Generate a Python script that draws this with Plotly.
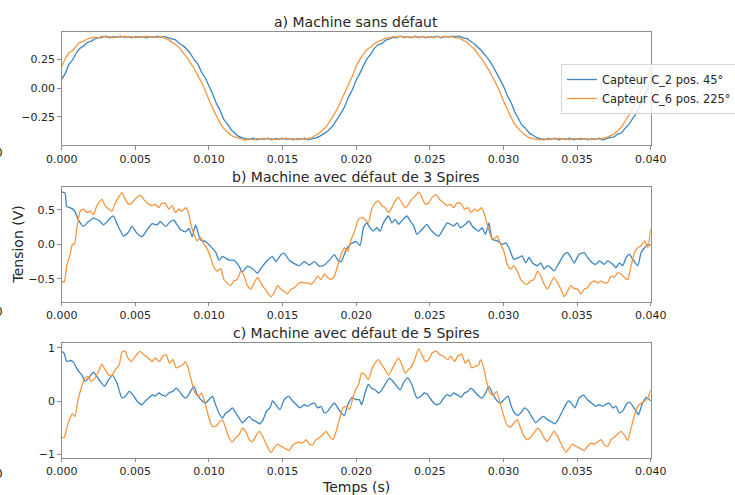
import plotly.graph_objects as go

# ---------------- data (time in ms, voltage in V) ----------------
# a) Machine sans défaut
a_blue = [(0,.08),(.25,.13),(.5,.21),(.75,.25),(1.0,.31),(1.25,.35),(1.5,.37),(1.75,.40),(2.0,.41),(2.25,.43),
          (2.5,.44),(2.75,.445),(3.0,.455),(3.25,.44),(3.5,.45),(3.75,.445),(4.0,.455),(4.25,.445),(4.5,.45),
          (4.75,.44),(5.0,.45),(5.25,.445),(5.5,.452),(5.75,.44),(6.0,.45),(6.25,.445),(6.5,.455),(6.75,.445),
          (7.0,.45),(7.25,.44),(7.5,.43),(7.75,.42),(8.0,.39),(8.25,.37),(8.5,.34),(8.75,.30),(9.0,.25),(9.25,.21),
          (9.5,.14),(9.75,.09),(10.0,.02),(10.25,-.05),(10.5,-.13),(10.75,-.19),(11.0,-.27),(11.25,-.31),
          (11.5,-.36),(11.75,-.39),(12.0,-.42),(12.25,-.43),(12.5,-.44),(12.75,-.445),(13.0,-.435),(13.25,-.45),
          (13.5,-.44),(13.75,-.445),(14.0,-.435),(14.25,-.45),(14.5,-.44),(14.75,-.445),(15.0,-.435),(15.25,-.445),
          (15.5,-.44),(15.75,-.45),(16.0,-.44),(16.25,-.445),(16.5,-.435),(16.75,-.45),(17.0,-.44),(17.25,-.435),
          (17.5,-.42),(17.75,-.40),(18.0,-.38),(18.25,-.35),(18.5,-.31),(18.75,-.26),(19.0,-.21),(19.25,-.15),
          (19.5,-.07),(19.75,-.01),(20.0,.07),
          (20.25,.13),(20.5,.20),(20.75,.26),(21.0,.30),(21.25,.35),(21.5,.38),(21.75,.39),(22.0,.42),(22.25,.43),
          (22.5,.445),(22.75,.44),(23.0,.455),(23.25,.445),(23.5,.45),(23.75,.44),(24.0,.455),(24.25,.445),
          (24.5,.45),(24.75,.44),(25.0,.45),(25.25,.445),(25.5,.455),(25.75,.44),(26.0,.45),(26.25,.445),
          (26.5,.455),(26.75,.45),(27.0,.455),(27.25,.44),(27.5,.435),(27.75,.41),(28.0,.39),(28.25,.36),
          (28.5,.33),(28.75,.29),(29.0,.25),(29.25,.20),(29.5,.14),(29.75,.08),(30.0,.02),(30.25,-.06),
          (30.5,-.12),(30.75,-.20),(31.0,-.26),(31.25,-.32),(31.5,-.35),(31.75,-.39),(32.0,-.41),(32.25,-.43),
          (32.5,-.44),(32.75,-.45),(33.0,-.44),(33.25,-.445),(33.5,-.435),(33.75,-.45),(34.0,-.44),(34.25,-.445),
          (34.5,-.435),(34.75,-.45),(35.0,-.44),(35.25,-.445),(35.5,-.44),(35.75,-.45),(36.0,-.44),(36.25,-.445),
          (36.5,-.435),(36.75,-.45),(37.0,-.44),(37.25,-.43),(37.5,-.425),(37.75,-.40),(38.0,-.39),(38.25,-.35),
          (38.5,-.32),(38.75,-.27),(39.0,-.22),(39.25,-.15),(39.5,-.08),(39.75,-.02),(40.0,.06)]

a_orange = [(0,.19),(.25,.26),(.5,.31),(.75,.33),(1.0,.37),(1.25,.40),(1.5,.41),(1.75,.43),(2.0,.44),(2.25,.445),
            (2.5,.44),(2.75,.455),(3.0,.445),(3.25,.45),(3.5,.44),(3.75,.45),(4.0,.445),(4.25,.455),(4.5,.445),
            (4.75,.45),(5.0,.44),(5.25,.45),(5.5,.445),(5.75,.455),(6.0,.445),(6.25,.45),(6.5,.445),(6.75,.45),
            (7.0,.435),(7.25,.425),(7.5,.40),(7.75,.38),(8.0,.35),(8.25,.31),(8.5,.27),(8.75,.22),(9.0,.17),
            (9.25,.11),(9.5,.05),(9.75,-.02),(10.0,-.10),(10.25,-.17),(10.5,-.24),(10.75,-.30),(11.0,-.35),
            (11.25,-.38),(11.5,-.41),(11.75,-.425),(12.0,-.435),(12.25,-.445),(12.5,-.45),(12.75,-.44),(13.0,-.45),
            (13.25,-.44),(13.5,-.445),(13.75,-.435),(14.0,-.445),(14.25,-.44),(14.5,-.45),(14.75,-.44),(15.0,-.445),
            (15.25,-.435),(15.5,-.445),(15.75,-.44),(16.0,-.45),(16.25,-.44),(16.5,-.445),(16.75,-.435),(17.0,-.43),
            (17.25,-.41),(17.5,-.39),(17.75,-.36),(18.0,-.33),(18.25,-.28),(18.5,-.23),(18.75,-.17),(19.0,-.10),
            (19.25,-.03),(19.5,.04),(19.75,.11),(20.0,.19),
            (20.25,.25),(20.5,.30),(20.75,.34),(21.0,.36),(21.25,.39),(21.5,.41),(21.75,.42),(22.0,.44),(22.25,.44),
            (22.5,.45),(22.75,.445),(23.0,.455),(23.25,.44),(23.5,.45),(23.75,.445),(24.0,.45),(24.25,.44),
            (24.5,.455),(24.75,.445),(25.0,.45),(25.25,.44),(25.5,.45),(25.75,.445),(26.0,.455),(26.25,.445),
            (26.5,.45),(26.75,.44),(27.0,.44),(27.25,.42),(27.5,.405),(27.75,.37),(28.0,.345),(28.25,.30),
            (28.5,.26),(28.75,.21),(29.0,.16),(29.25,.10),(29.5,.04),(29.75,-.03),(30.0,-.11),(30.25,-.18),
            (30.5,-.25),(30.75,-.31),(31.0,-.35),(31.25,-.385),(31.5,-.41),(31.75,-.43),(32.0,-.44),(32.25,-.445),
            (32.5,-.45),(32.75,-.44),(33.0,-.45),(33.25,-.44),(33.5,-.445),(33.75,-.435),(34.0,-.445),(34.25,-.44),
            (34.5,-.45),(34.75,-.44),(35.0,-.445),(35.25,-.435),(35.5,-.445),(35.75,-.44),(36.0,-.45),(36.25,-.44),
            (36.5,-.445),(36.75,-.435),(37.0,-.43),(37.25,-.415),(37.5,-.40),(37.75,-.37),(38.0,-.34),(38.25,-.29),
            (38.5,-.24),(38.75,-.18),(39.0,-.11),(39.25,-.04),(39.5,.03),(39.75,.10),(40.0,.18)]

# b) Machine avec défaut de 3 Spires
b_blue = [(0,.76),(.23,.74),(.34,.55),(.68,.52),(.91,.47),(1.14,.35),(1.48,.26),(1.82,.33),(2.16,.38),(2.61,.33),
          (2.84,.28),(3.30,.38),(3.52,.41),(3.75,.30),(4.20,.12),(4.55,.18),(4.77,.26),(5.11,.16),(5.45,.11),
          (5.80,.21),(6.14,.30),(6.48,.28),(6.70,.33),(7.05,.26),(7.39,.33),(7.61,.35),(7.84,.28),(8.07,.21),
          (8.41,.18),(8.64,.23),(8.86,.11),(9.09,.28),(9.43,.06),(9.77,.04),(10.11,-.03),(10.45,-.11),(10.68,-.23),
          (10.91,-.18),(11.14,-.20),(11.36,-.23),(11.70,-.23),(12.05,-.32),(12.27,-.40),(12.61,-.32),(12.95,-.35),
          (13.30,-.42),(13.52,-.35),(13.98,-.23),(14.32,-.18),(14.55,-.25),(14.89,-.15),(15.11,-.13),(15.45,-.23),
          (15.80,-.28),(16.14,-.31),(16.48,-.25),(16.82,-.30),(17.16,-.25),(17.50,-.32),(17.84,-.30),(18.18,-.23),
          (18.52,-.15),(18.75,-.23),(18.98,-.25),(19.32,-.08),(19.66,.01),(20.0,.04),
          (20.26,-.02),(20.49,.24),(20.71,.31),(20.94,.24),(21.17,.19),(21.40,.24),(21.62,.19),(21.85,.31),
          (22.19,.41),(22.42,.31),(22.65,.36),(22.87,.29),(23.10,.34),(23.44,.41),(23.67,.34),(23.90,.27),
          (24.12,.145),(24.35,.19),(24.58,.24),(24.80,.29),(25.03,.22),(25.37,.145),(25.60,.12),(25.83,.19),
          (26.17,.31),(26.40,.29),(26.62,.265),(26.85,.31),(27.08,.24),(27.42,.29),(27.65,.34),(27.88,.265),
          (28.10,.22),(28.33,.19),(28.55,.24),(28.78,.145),(29.01,.31),(29.24,.07),(29.58,.05),(29.92,.0),
          (30.15,.02),(30.37,-.05),(30.71,-.22),(31.05,-.19),(31.28,-.17),(31.51,-.27),(31.74,-.19),(31.97,-.27),
          (32.31,-.31),(32.53,-.27),(32.76,-.36),(32.99,-.31),(33.21,-.34),(33.44,-.385),(33.78,-.27),(34.12,-.145),
          (34.35,-.12),(34.58,-.19),(34.80,-.27),(35.14,-.145),(35.49,-.12),(35.71,-.19),(36.05,-.27),(36.28,-.29),
          (36.51,-.24),(36.85,-.29),(37.08,-.24),(37.42,-.29),(37.64,-.34),(37.87,-.27),(38.10,-.31),(38.33,-.19),
          (38.56,-.145),(38.79,-.22),(39.12,-.31),(39.35,-.12),(39.58,-.05),(39.80,.0),(40.0,-.02)]

b_orange = [(0,-.53),(.16,-.55),(.34,-.31),(.57,-.145),(.73,.0),(.86,.0),(1.02,.22),(1.25,.48),(1.48,.51),(1.70,.46),
            (1.93,.48),(2.16,.43),(2.39,.56),(2.73,.65),(2.95,.56),(3.18,.51),(3.41,.48),(3.64,.60),(3.86,.68),
            (4.09,.75),(4.32,.65),(4.55,.58),(4.77,.60),(5.11,.68),(5.34,.71),(5.57,.65),(5.80,.60),(6.14,.56),
            (6.36,.58),(6.59,.53),(6.82,.60),(7.05,.59),(7.27,.51),(7.50,.56),(7.73,.46),(7.95,.51),(8.18,.48),
            (8.41,.53),(8.59,.48),(8.75,.31),(8.98,.145),(9.20,.05),(9.43,.10),(9.66,.0),(9.89,-.07),(10.11,-.19),
            (10.34,-.34),(10.57,-.39),(10.80,-.35),(11.02,-.51),(11.25,-.56),(11.48,-.60),(11.70,-.53),(11.93,-.51),
            (12.16,-.39),(12.39,-.46),(12.61,-.60),(12.84,-.65),(13.07,-.56),(13.30,-.48),(13.52,-.56),(13.75,-.63),
            (13.98,-.70),(14.20,-.76),(14.43,-.70),(14.66,-.60),(14.89,-.65),(15.11,-.68),(15.34,-.72),(15.57,-.65),
            (15.80,-.63),(16.02,-.58),(16.25,-.55),(16.48,-.56),(16.70,-.56),(16.93,-.58),(17.16,-.53),(17.39,-.46),
            (17.61,-.51),(17.84,-.43),(18.07,-.48),(18.30,-.51),(18.52,-.46),(18.75,-.31),(18.98,-.145),(19.20,-.05),
            (19.43,-.10),(19.66,.07),(19.89,.19),
            (20.15,.36),(20.37,.39),(20.60,.36),(20.83,.31),(21.05,.51),(21.28,.60),(21.51,.63),(21.74,.56),
            (21.96,.53),(22.19,.46),(22.42,.53),(22.65,.63),(22.87,.68),(23.10,.60),(23.33,.53),(23.55,.58),
            (23.78,.65),(24.01,.70),(24.24,.76),(24.46,.68),(24.69,.58),(24.92,.60),(25.15,.68),(25.44,.72),
            (25.67,.65),(25.94,.60),(26.17,.56),(26.40,.58),(26.62,.53),(26.85,.60),(27.12,.59),(27.35,.51),
            (27.58,.53),(27.80,.46),(28.03,.51),(28.26,.48),(28.49,.53),(28.67,.46),(28.90,.29),(29.12,.12),
            (29.35,.07),(29.58,.12),(29.80,.0),(30.03,-.10),(30.26,-.29),(30.49,-.36),(30.71,-.31),(30.94,-.39),
            (31.17,-.51),(31.40,-.56),(31.62,-.58),(31.85,-.53),(32.08,-.51),(32.31,-.39),(32.53,-.46),(32.76,-.58),
            (32.99,-.65),(33.21,-.56),(33.44,-.48),(33.67,-.56),(33.90,-.65),(34.12,-.76),(34.35,-.68),(34.58,-.60),
            (34.80,-.64),(35.03,-.65),(35.26,-.72),(35.49,-.65),(35.71,-.63),(35.94,-.56),(36.17,-.53),(36.40,-.56),
            (36.62,-.53),(36.85,-.56),(37.08,-.55),(37.31,-.46),(37.53,-.48),(37.76,-.41),(37.99,-.43),(38.21,-.48),
            (38.44,-.51),(38.67,-.31),(38.90,-.12),(39.12,-.05),(39.35,-.02),(39.58,.05),(39.80,-.05),(40.0,.22)]

# c) Machine avec défaut de 5 Spires
c_blue = [(0,.93),(.16,.90),(.34,.74),(.57,.76),(.80,.73),(.95,.65),(1.14,.56),(1.36,.49),(1.59,.37),(1.82,.43),
          (2.16,.54),(2.39,.46),(2.61,.37),(2.91,.275),(3.18,.40),(3.45,.48),(3.75,.34),(4.09,.056),(4.32,.09),
          (4.59,.18),(4.82,.12),(5.11,.0),(5.45,-.07),(5.68,.0),(5.91,.056),(6.18,.12),(6.36,.09),(6.59,.15),
          (6.82,.11),(7.05,.09),(7.27,.15),(7.55,.18),(7.77,.24),(8.0,.18),(8.23,.09),(8.45,.056),(8.68,.15),
          (8.98,.275),(9.20,.12),(9.55,.0),(9.77,-.04),(10.0,.025),(10.23,.09),(10.45,-.07),(10.68,-.225),
          (10.91,-.32),(11.14,-.225),(11.36,-.19),(11.59,-.13),(11.82,-.225),(12.05,-.32),(12.27,-.41),(12.5,-.35),
          (12.73,-.29),(12.95,-.35),(13.18,-.38),(13.45,-.43),(13.68,-.35),(13.91,-.19),(14.14,-.13),(14.32,.0),
          (14.55,-.07),(14.82,-.16),(15.11,.025),(15.41,.09),(15.68,.0),(15.95,-.07),(16.18,-.13),(16.48,-.07),
          (16.70,-.10),(16.93,-.06),(17.16,-.04),(17.39,-.13),(17.61,-.10),(17.84,-.225),(18.07,-.19),(18.30,-.10),
          (18.52,-.04),(18.75,-.13),(18.98,-.225),(19.20,-.27),(19.43,-.07),(19.73,.07),(20.0,.025),
          (20.21,.025),(20.37,-.07),(20.60,.15),(20.83,.31),(21.05,.24),(21.28,.21),(21.51,.15),(21.74,.21),
          (21.96,.31),(22.26,.43),(22.49,.37),(22.76,.275),(22.99,.21),(23.21,.34),(23.49,.44),(23.78,.31),
          (24.12,.056),(24.40,.09),(24.62,.15),(24.85,.12),(25.15,.0),(25.44,-.07),(25.71,-.04),(25.94,.056),
          (26.21,.12),(26.40,.09),(26.62,.15),(26.90,.11),(27.12,.07),(27.35,.15),(27.58,.18),(27.80,.24),
          (28.03,.18),(28.33,.09),(28.55,.056),(28.78,.15),(29.01,.275),(29.30,.12),(29.58,.0),(29.80,-.04),
          (30.03,.025),(30.31,.09),(30.53,-.10),(30.76,-.225),(30.99,-.27),(31.21,-.21),(31.44,-.13),(31.67,-.18),
          (31.97,-.32),(32.19,-.41),(32.42,-.35),(32.71,-.29),(32.99,-.35),(33.21,-.38),(33.49,-.43),(33.71,-.35),
          (33.94,-.225),(34.17,-.10),(34.40,.0),(34.62,-.04),(34.85,-.13),(35.14,.056),(35.44,.11),(35.71,.025),
          (35.99,-.04),(36.28,-.10),(36.51,-.07),(36.74,-.10),(36.97,-.06),(37.19,-.04),(37.42,-.13),(37.64,-.10),
          (37.87,-.225),(38.10,-.19),(38.33,-.07),(38.56,-.02),(38.79,-.10),(39.01,-.19),(39.17,-.26),(39.40,-.07),
          (39.70,.07),(39.92,.025),(40.0,.0)]

c_orange = [(0,-.68),(.16,-.69),(.34,-.51),(.57,-.32),(.73,-.24),(.91,-.29),(1.09,.0),(1.32,.24),(1.55,.42),
            (1.77,.46),(2.0,.37),(2.23,.42),(2.45,.525),(2.73,.69),(2.95,.59),(3.18,.49),(3.41,.48),(3.64,.59),
            (3.91,.68),(4.09,.92),(4.27,.94),(4.5,.81),(4.73,.74),(5.0,.84),(5.34,.93),(5.57,.87),(5.86,.81),
            (6.14,.74),(6.36,.81),(6.64,.74),(6.86,.84),(7.09,.87),(7.32,.71),(7.55,.78),(7.77,.62),(8.0,.65),
            (8.23,.68),(8.41,.74),(8.59,.62),(8.82,.37),(9.05,.15),(9.27,.09),(9.5,.15),(9.77,-.07),(10.0,-.32),
            (10.23,-.475),(10.45,-.475),(10.68,-.41),(10.91,-.35),(11.14,-.51),(11.36,-.69),(11.59,-.77),
            (11.82,-.69),(12.05,-.63),(12.27,-.51),(12.5,-.57),(12.73,-.725),(12.95,-.77),(13.18,-.66),(13.41,-.57),
            (13.64,-.66),(13.91,-.82),(14.20,-.965),(14.43,-.88),(14.66,-.81),(14.89,-.85),(15.11,-.88),(15.45,-.93),
            (15.68,-.83),(15.91,-.79),(16.14,-.77),(16.36,-.79),(16.59,-.725),(16.82,-.81),(17.05,-.82),(17.27,-.725),
            (17.5,-.69),(17.73,-.63),(17.95,-.57),(18.18,-.66),(18.41,-.725),(18.64,-.57),(18.86,-.35),(19.09,-.13),
            (19.32,-.10),(19.55,-.16),(19.77,.056),(20.0,.24),
            (20.15,.30),(20.37,.525),(20.60,.49),(20.83,.40),(21.05,.59),(21.28,.71),(21.51,.775),(21.74,.68),
            (21.96,.59),(22.19,.49),(22.42,.59),(22.65,.71),(22.87,.81),(23.10,.68),(23.33,.525),(23.55,.59),
            (23.78,.65),(24.01,.81),(24.24,.98),(24.46,.87),(24.69,.74),(24.92,.775),(25.15,.90),(25.44,.94),
            (25.67,.87),(25.94,.84),(26.21,.775),(26.44,.84),(26.67,.74),(26.90,.84),(27.17,.88),(27.40,.71),
            (27.62,.775),(27.85,.62),(28.08,.65),(28.31,.68),(28.45,.775),(28.63,.65),(28.85,.37),(29.08,.15),
            (29.31,.11),(29.53,.18),(29.80,-.07),(30.03,-.29),(30.26,-.46),(30.49,-.49),(30.71,-.41),(30.94,-.35),
            (31.17,-.51),(31.40,-.66),(31.62,-.725),(31.85,-.68),(32.08,-.60),(32.31,-.51),(32.53,-.57),(32.76,-.69),
            (32.99,-.76),(33.21,-.66),(33.44,-.57),(33.67,-.66),(33.94,-.82),(34.24,-.965),(34.47,-.88),(34.69,-.81),
            (34.92,-.85),(35.21,-.89),(35.49,-.93),(35.71,-.85),(35.94,-.79),(36.17,-.81),(36.40,-.77),(36.62,-.725),
            (36.85,-.82),(37.08,-.85),(37.31,-.725),(37.53,-.68),(37.76,-.62),(37.99,-.57),(38.21,-.64),(38.44,-.74),
            (38.67,-.51),(38.90,-.26),(39.12,-.10),(39.35,-.04),(39.58,.0),(39.80,.056),(40.0,.21)]

titles = ["a) Machine sans défaut", "b) Machine avec défaut de 3 Spires", "c) Machine avec défaut de 5 Spires"]
series_names = ["Capteur C_2 pos. 45°", "Capteur C_6 pos. 225°"]
x_ticks = [0.000, 0.005, 0.010, 0.015, 0.020, 0.025, 0.030, 0.035, 0.040]
y_ticks = [[-0.25, 0.0, 0.25], [-0.5, 0.0, 0.5], [-1, 0, 1]]
y_ranges = [[-0.495, 0.491], [-0.832, 0.826], [-1.064, 1.083]]
y_formats = [".2f", ".1f", "d"]

# ---------------- figure ----------------
W, H = 735, 495
BLUE = "#3a86c2"
ORANGE = "#f6963f"
SPINE = "#8c8c8c"
TXT = "#262626"
FONT = "DejaVu Sans"

x_dom = [61.7 / W, 650.7 / W]
y_doms = [[1 - 145 / H, 1 - 32 / H], [1 - 301.7 / H, 1 - 187.3 / H], [1 - 457.7 / H, 1 - 343.3 / H]]

fig = go.Figure()
groups = [(a_blue, a_orange), (b_blue, b_orange), (c_blue, c_orange)]
for k, (sb, so) in enumerate(groups):
    xa = "x" if k == 0 else f"x{k+1}"
    ya = "y" if k == 0 else f"y{k+1}"
    for s, col, nm in ((sb, BLUE, series_names[0]), (so, ORANGE, series_names[1])):
        fig.add_trace(go.Scatter(
            x=[p[0] / 1000 for p in s], y=[p[1] for p in s], mode="lines",
            line=dict(color=col, width=1.3, shape="spline", smoothing=0.5), name=nm, showlegend=(k == 0),
            xaxis=xa, yaxis=ya))

layout = dict(
    width=W, height=H, margin=dict(l=0, r=0, t=0, b=0, autoexpand=False),
    paper_bgcolor="white", plot_bgcolor="white",
    font=dict(family=FONT, size=11, color=TXT),
    legend=dict(x=561 / W, y=1 - 64 / H, xanchor="left", yanchor="top",
                bgcolor="rgba(255,255,255,0.8)", bordercolor="#d6d6d6", borderwidth=1,
                font=dict(size=11.4, color=TXT, family=FONT), tracegroupgap=0),
)
for k in range(3):
    sx = "xaxis" if k == 0 else f"xaxis{k+1}"
    sy = "yaxis" if k == 0 else f"yaxis{k+1}"
    anch_x = "y" if k == 0 else f"y{k+1}"
    anch_y = "x" if k == 0 else f"x{k+1}"
    layout[sx] = dict(domain=x_dom, anchor=anch_x, range=[0, 0.04], tickvals=x_ticks, tickformat=".3f",
                      showgrid=False, zeroline=False, showline=True, linecolor=SPINE, linewidth=1, mirror=True,
                      ticks="outside", ticklen=3.5, tickwidth=1, tickcolor=SPINE,
                      tickfont=dict(size=11, color=TXT, family=FONT))
    layout[sy] = dict(domain=y_doms[k], anchor=anch_y, range=y_ranges[k], tickvals=y_ticks[k],
                      tickformat=y_formats[k],
                      showgrid=False, zeroline=False, showline=True, linecolor=SPINE, linewidth=1, mirror=True,
                      ticks="outside", ticklen=3.5, tickwidth=1, tickcolor=SPINE,
                      tickfont=dict(size=11, color=TXT, family=FONT))
fig.update_layout(**layout)

xc = (x_dom[0] + x_dom[1]) / 2
for k in range(3):
    fig.add_annotation(text=titles[k], x=xc, y=y_doms[k][1], xref="paper", yref="paper",
                       xanchor="center", yanchor="bottom", yshift=0, showarrow=False,
                       font=dict(size=14, color=TXT, family=FONT))
fig.add_annotation(text="Tension (V)", x=18 / W, y=(y_doms[1][0] + y_doms[1][1]) / 2, xref="paper", yref="paper",
                   textangle=-90, showarrow=False, xanchor="center", yanchor="middle",
                   font=dict(size=14, color=TXT, family=FONT))
fig.add_annotation(text="Temps (s)", x=xc, y=1 - 487 / H, xref="paper", yref="paper",
                   showarrow=False, xanchor="center", yanchor="middle",
                   font=dict(size=14, color=TXT, family=FONT))
for yy in (153, 312, 474):
    fig.add_annotation(text="0", x=5 / W, y=1 - yy / H, xref="paper", yref="paper",
                       showarrow=False, xanchor="right", yanchor="middle",
                       font=dict(size=12, color=TXT, family=FONT))

fig.write_html("out.html", config={"displayModeBar": False},
               post_script="document.body.style.margin='0px';document.body.style.overflow='hidden';")
